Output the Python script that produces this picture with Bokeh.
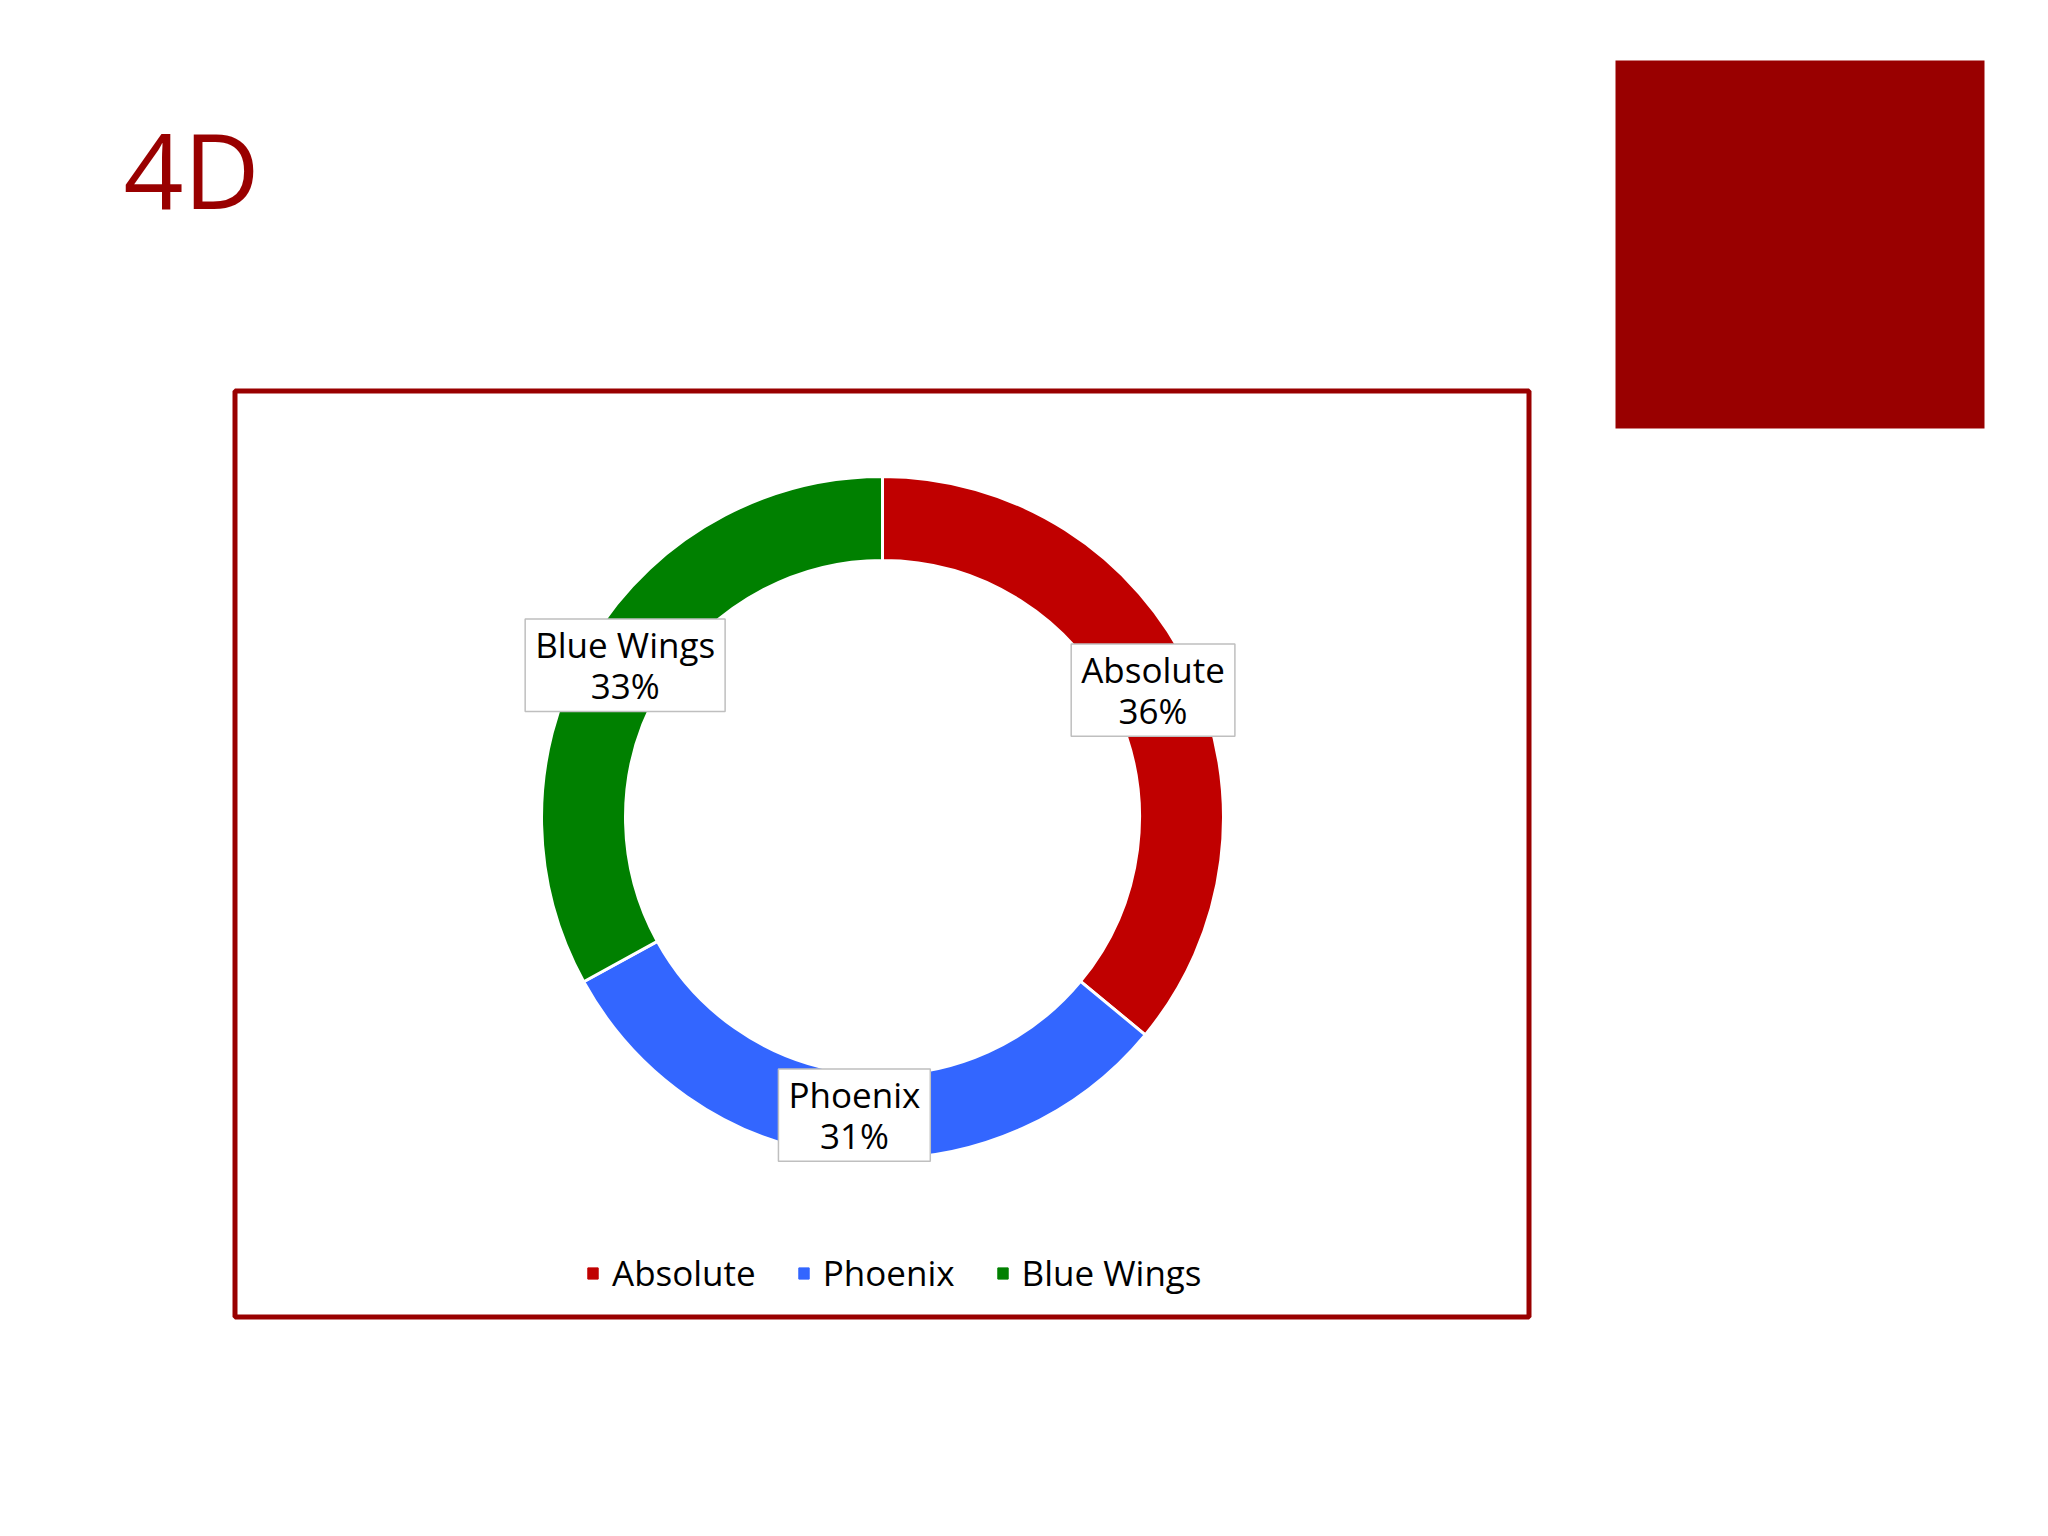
import numpy as np
from bokeh.plotting import figure
from bokeh.models import Range1d, ColumnDataSource, Legend, LegendItem
from bokeh.core.properties import value
from bokeh.embed import file_html
from bokeh.resources import INLINE

# ---- data ----
title = "4D"
categories = ["Absolute", "Phoenix", "Blue Wings"]
shares = [36, 31, 33]          # percent
colors = ["#C00000", "#3366FF", "#008000"]

FONT = "Open Sans"
DARK_RED = "#990000"

W, H = 2032, 1520
p = figure(width=W, height=H, x_range=Range1d(0, W), y_range=Range1d(0, H),
           output_backend="svg", toolbar_location=None, min_border=0)
p.axis.visible = False
p.grid.visible = False
p.outline_line_color = None
p.background_fill_color = "white"
p.border_fill_color = "white"


def Y(py):
    return H - py


# title
p.text(x=[123], y=[Y(168)], text=[title], text_font=value(FONT), text_font_size="105px",
       text_color=DARK_RED, text_align="left", text_baseline="middle")

# decorative square
p.quad(left=[1615], right=[1984], top=[Y(60)], bottom=[Y(428)], fill_color=DARK_RED, line_color=None)

# chart frame
p.quad(left=[234.5], right=[1528.5], top=[Y(390.5)], bottom=[Y(1316.5)], fill_color=None,
       line_color=DARK_RED, line_width=5)

# donut
cx, cy = 882, Y(817)
vals = np.array(shares, dtype=float)
frac = vals / vals.sum()
cum = np.cumsum(frac)
prev = np.concatenate([[0.0], cum[:-1]])
start = np.pi / 2 - 2 * np.pi * prev
end = np.pi / 2 - 2 * np.pi * cum
src = ColumnDataSource(dict(start=start, end=end, color=colors, cat=categories))
p.annular_wedge(x=cx, y=cy, inner_radius=257, outer_radius=341, start_angle="start", end_angle="end",
                direction="clock", fill_color="color", line_color="white", line_width=3, source=src)

# data labels
mid = (prev + cum) / 2
r_lab = 299
lx = cx + r_lab * np.sin(2 * np.pi * mid)
ly = cy + r_lab * np.cos(2 * np.pi * mid)
lab_text = [f"{c}\n{round(f * 100)}%" for c, f in zip(categories, frac)]
p.text(x=lx, y=ly, text=lab_text, text_font=value(FONT), text_font_size="35px", text_color="black",
       text_align="center", text_baseline="middle", text_line_height=0.88,
       background_fill_color="white", border_line_color="#BFBFBF", border_line_width=1.5,
       padding=dict(left=10, right=10, top=2, bottom=2))

# legend (proxy renderers placed outside the visible range)
items = []
for c, col in zip(categories, colors):
    r = p.rect(x=[-1000], y=[-1000], width=1, height=1, fill_color=col, line_color=col)
    items.append(LegendItem(label=c, renderers=[r]))
legend = Legend(items=items, orientation="horizontal", location=(586, 224),
                label_text_font=FONT, label_text_font_size="35px", label_text_color="black",
                glyph_width=13, glyph_height=14, label_standoff=13, spacing=41, padding=0, margin=0,
                border_line_color=None, background_fill_alpha=0)
p.add_layout(legend)

open("out.html", "w").write(file_html(p, INLINE))
